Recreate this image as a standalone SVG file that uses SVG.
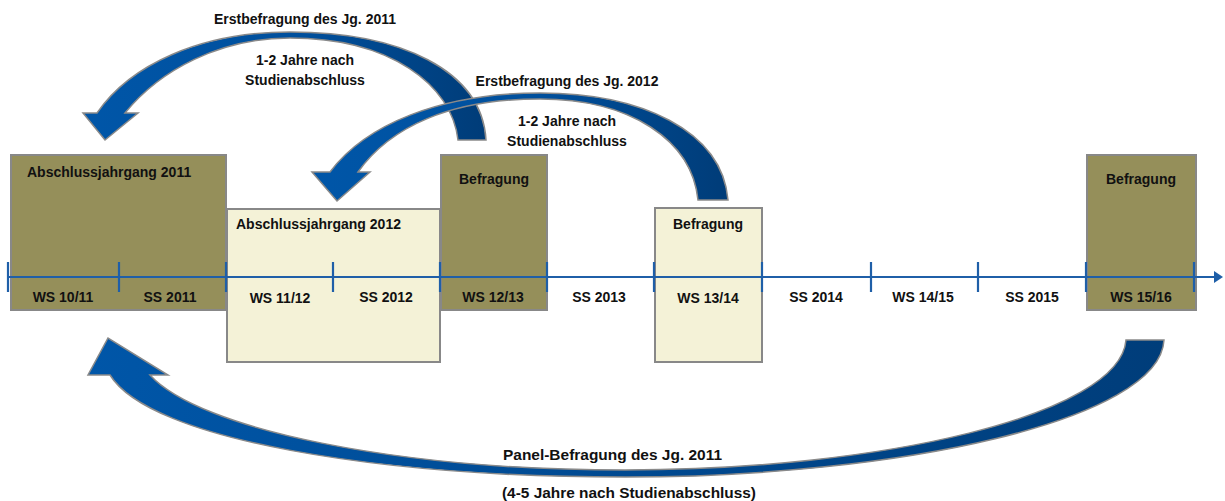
<svg xmlns="http://www.w3.org/2000/svg" width="1225" height="501" viewBox="0 0 1225 501">
<style>
text{font-family:"Liberation Sans",Arial,sans-serif;font-weight:bold;font-size:14px;fill:#111}
.c{text-anchor:middle}
.dark{fill:#958f5a;stroke:#888;stroke-width:2}
.light{fill:#f4f2d7;stroke:#888;stroke-width:2}
.arr{stroke:#8a8a8a;stroke-width:1.5}
.tl{stroke:#1f5fa8;stroke-width:2.2;fill:none}
.p{font-size:15px}
</style>
<defs>
<linearGradient id="g1" x1="0" y1="0" x2="1" y2="0">
<stop offset="0" stop-color="#0056a8"/><stop offset="0.55" stop-color="#004f9c"/><stop offset="1" stop-color="#003c78"/>
</linearGradient>
<linearGradient id="g3" x1="0" y1="0" x2="1" y2="0">
<stop offset="0" stop-color="#0056a8"/><stop offset="1" stop-color="#003d7a"/>
</linearGradient>
</defs>
<g id="box-2011"><rect class="dark" x="11" y="155" width="215" height="155"/><text x="27" y="177">Abschlussjahrgang 2011</text></g>
<g id="box-2012"><rect class="light" x="227" y="209" width="213" height="153"/><text x="236" y="229">Abschlussjahrgang 2012</text></g>
<g id="befragung-1"><rect class="dark" x="441" y="155" width="106" height="155"/><text class="c" x="494" y="184">Befragung</text></g>
<g id="befragung-2"><rect class="light" x="655" y="208" width="107" height="154"/><text class="c" x="708" y="229">Befragung</text></g>
<g id="befragung-3"><rect class="dark" x="1087" y="155" width="109" height="155"/><text class="c" x="1141" y="184">Befragung</text></g>
<g id="timeline">
<line class="tl" x1="8" y1="277" x2="1216" y2="277"/>
<polygon points="1214,271 1223,277 1214,283" fill="#1f5fa8"/>
<path class="tl" d="M8,262V292M119,262V292M226,262V292M333,262V292M440,262V292M547,262V292M654,262V292M762,262V292M871,262V292M978,262V292M1086,262V292M1194,262V292"/>
<text class="c" x="63" y="302">WS 10/11</text>
<text class="c" x="170" y="302">SS 2011</text>
<text class="c" x="280" y="303">WS 11/12</text>
<text class="c" x="386" y="302">SS 2012</text>
<text class="c" x="493" y="302">WS 12/13</text>
<text class="c" x="599" y="302">SS 2013</text>
<text class="c" x="708" y="303">WS 13/14</text>
<text class="c" x="816" y="302">SS 2014</text>
<text class="c" x="923" y="302">WS 14/15</text>
<text class="c" x="1032" y="302">SS 2015</text>
<text class="c" x="1141" y="302">WS 15/16</text>
</g>
<g id="connectors">
<path class="arr" fill="url(#g1)" d="M486,140 C482,70 400,32 290,32 C200,32 130,65 97,113 L83,113 L105,140 L138,113 L125,113 C160,70 220,38 290,38 C390,38 452,85 458,140 Z"/>
<path class="arr" fill="url(#g1)" d="M728,200 C722,130 640,93 540,93 C440,93 365,125 330,172 L312,172 L337,201 L370,172 L358,172 C390,127 450,99 540,99 C630,99 692,140 698,200 Z"/>
<path class="arr" fill="url(#g3)" d="M1164,340 C1160,420 900,477 625,477 C380,477 150,440 110,375 L88,375 L108,338 L168,375 L150,375 C200,430 400,470 625,470 C880,470 1120,415 1126,340 Z"/>
</g>
<g id="labels">
<text class="c" x="305" y="24">Erstbefragung des Jg. 2011</text>
<text class="c" x="305" y="65">1-2 Jahre nach</text>
<text class="c" x="305" y="85">Studienabschluss</text>
<text class="c" x="567" y="86">Erstbefragung des Jg. 2012</text>
<text class="c" x="567" y="126">1-2 Jahre nach</text>
<text class="c" x="567" y="146">Studienabschluss</text>
<text class="p" x="503" y="460" textLength="219" lengthAdjust="spacingAndGlyphs">Panel-Befragung des Jg. 2011</text>
<text class="p" x="502" y="498" textLength="254" lengthAdjust="spacingAndGlyphs">(4-5 Jahre nach Studienabschluss)</text>
</g>
</svg>
